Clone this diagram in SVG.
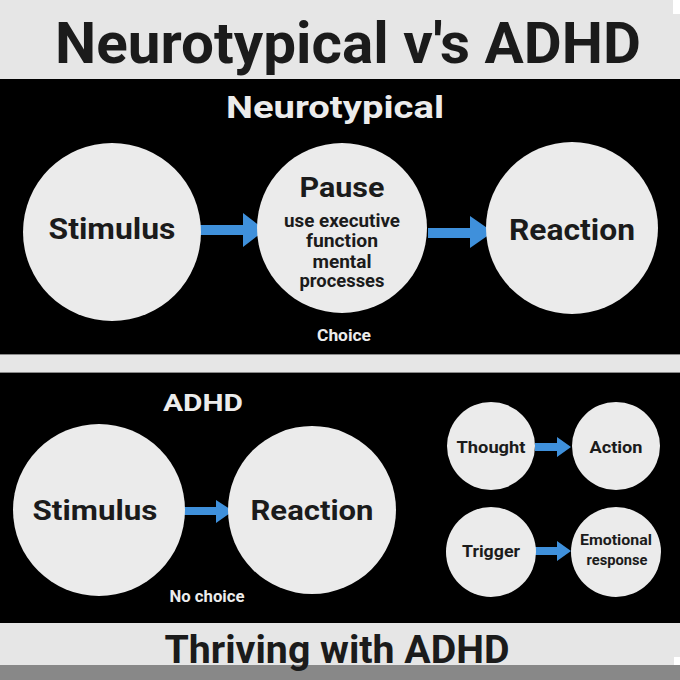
<svg xmlns="http://www.w3.org/2000/svg" width="680" height="680" viewBox="0 0 680 680">
<style>
text{font-family:Roboto,"Liberation Sans",Arial,sans-serif;font-weight:700;text-anchor:middle}
.dark{fill:#1b1b1b}
.light{fill:#ececec}
.circ{fill:#ebebeb}
.arrow{fill:#3f90db}
</style>
<rect x="0" y="0" width="680" height="680" fill="#e6e6e6"/>
<rect x="673" y="0" width="7" height="14" fill="#ffffff"/>
<rect x="0" y="79" width="680" height="275" fill="#000"/>
<rect x="0" y="373" width="680" height="250" fill="#000"/>
<line x1="0" y1="354.5" x2="680" y2="354.5" stroke="#8a8a8a" stroke-width="1"/>
<line x1="0" y1="372.5" x2="680" y2="372.5" stroke="#8a8a8a" stroke-width="1"/>
<rect x="0" y="665" width="680" height="15" fill="#888888"/>
<rect x="674" y="657" width="6" height="8" fill="#ffffff"/>

<text class="dark" x="348" y="63" font-size="57" textLength="586" lengthAdjust="spacingAndGlyphs">Neurotypical v's ADHD</text>
<text class="light" x="335" y="118" font-size="32" textLength="218" lengthAdjust="spacingAndGlyphs">Neurotypical</text>
<text class="light" x="203" y="411" font-size="24" textLength="80" lengthAdjust="spacingAndGlyphs">ADHD</text>
<text class="dark" x="337" y="663" font-size="39" textLength="345" lengthAdjust="spacingAndGlyphs">Thriving with ADHD</text>

<g id="connectors" class="arrow">
<polygon points="200,225 243,225 243,213 265,230 243,247 243,235 200,235"/>
<polygon points="428,228 470,228 470,216 493,232 470,248 470,238 428,238"/>
<polygon points="184,507 216,507 216,500 233,511 216,523 216,515 184,515"/>
<polygon points="535,443 557,443 557,437 571,447 557,457 557,451 535,451"/>
<polygon points="535,547 557,547 557,541 571,551 557,561 557,555 535,555"/>
</g>

<g id="nt-stimulus">
<circle class="circ" cx="112" cy="232" r="89"/>
<text class="dark" x="112" y="239" font-size="29" textLength="127" lengthAdjust="spacingAndGlyphs">Stimulus</text>
</g>
<g id="nt-pause">
<circle class="circ" cx="342" cy="228" r="85"/>
<text class="dark" x="342" y="197" font-size="27" textLength="85" lengthAdjust="spacingAndGlyphs">Pause</text>
<text class="dark" x="342" y="227" font-size="18" textLength="116" lengthAdjust="spacingAndGlyphs">use executive</text>
<text class="dark" x="342" y="247" font-size="18" textLength="72" lengthAdjust="spacingAndGlyphs">function</text>
<text class="dark" x="342" y="268" font-size="18" textLength="59" lengthAdjust="spacingAndGlyphs">mental</text>
<text class="dark" x="342" y="287" font-size="18" textLength="85" lengthAdjust="spacingAndGlyphs">processes</text>
</g>
<g id="nt-choice">
<text class="light" x="344" y="341" font-size="16" textLength="54" lengthAdjust="spacingAndGlyphs">Choice</text>
</g>
<g id="nt-reaction">
<circle class="circ" cx="572" cy="228" r="86"/>
<text class="dark" x="572" y="240" font-size="29" textLength="126" lengthAdjust="spacingAndGlyphs">Reaction</text>
</g>

<g id="adhd-stimulus">
<circle class="circ" cx="99" cy="510" r="86"/>
<text class="dark" x="95" y="520" font-size="28" textLength="125" lengthAdjust="spacingAndGlyphs">Stimulus</text>
</g>
<g id="adhd-reaction">
<circle class="circ" cx="312" cy="510" r="84"/>
<text class="dark" x="312" y="520" font-size="28" textLength="123" lengthAdjust="spacingAndGlyphs">Reaction</text>
</g>
<g id="adhd-nochoice">
<text class="light" x="207" y="602" font-size="16" textLength="75" lengthAdjust="spacingAndGlyphs">No choice</text>
</g>

<g id="thought">
<circle class="circ" cx="491" cy="446" r="44"/>
<text class="dark" x="491" y="453" font-size="17" textLength="69" lengthAdjust="spacingAndGlyphs">Thought</text>
</g>
<g id="action">
<circle class="circ" cx="616" cy="446" r="44"/>
<text class="dark" x="616" y="453" font-size="17" textLength="53" lengthAdjust="spacingAndGlyphs">Action</text>
</g>
<g id="trigger">
<circle class="circ" cx="491" cy="552" r="45"/>
<text class="dark" x="491" y="557" font-size="17" textLength="58" lengthAdjust="spacingAndGlyphs">Trigger</text>
</g>
<g id="emotional-response">
<circle class="circ" cx="616" cy="552" r="45"/>
<text class="dark" x="616" y="545" font-size="15" textLength="72" lengthAdjust="spacingAndGlyphs">Emotional</text>
<text class="dark" x="617" y="565" font-size="15" textLength="61" lengthAdjust="spacingAndGlyphs">response</text>
</g>
</svg>
